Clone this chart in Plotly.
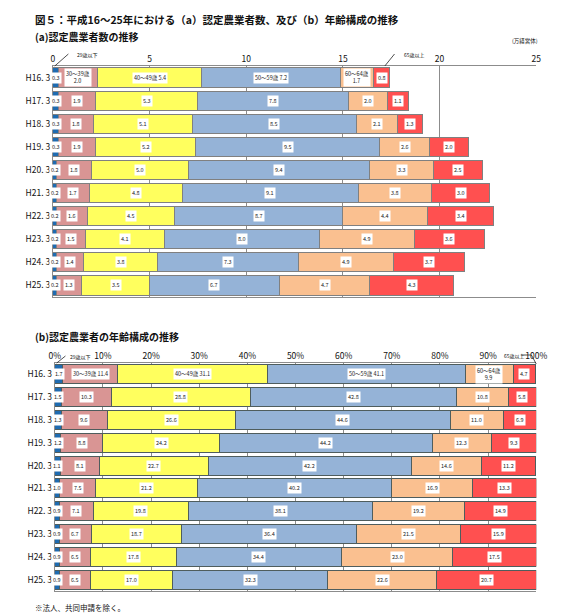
import plotly.graph_objects as go

# ---- data -------------------------------------------------------------
years = ["H16. 3", "H17. 3", "H18. 3", "H19. 3", "H20. 3",
         "H21. 3", "H22. 3", "H23. 3", "H24. 3", "H25. 3"]
ages = ["29歳以下", "30～39歳", "40～49歳", "50～59歳", "60～64歳", "65歳以上"]

# (a) number of certified farmers, 10,000 units
cnt_u29 = [0.3, 0.3, 0.3, 0.3, 0.2, 0.2, 0.2, 0.2, 0.2, 0.2]
cnt_30s = [2.0, 1.9, 1.8, 1.9, 1.8, 1.7, 1.6, 1.5, 1.4, 1.3]
cnt_40s = [5.4, 5.3, 5.1, 5.2, 5.0, 4.8, 4.5, 4.1, 3.8, 3.5]
cnt_50s = [7.2, 7.8, 8.5, 9.5, 9.4, 9.1, 8.7, 8.0, 7.3, 6.7]
cnt_60s = [1.7, 2.0, 2.1, 2.6, 3.3, 3.8, 4.4, 4.9, 4.9, 4.7]
cnt_65 = [0.8, 1.1, 1.3, 2.0, 2.5, 3.0, 3.4, 3.6, 3.7, 4.3]

# (b) age composition, %
pct_u29 = [1.7, 1.5, 1.3, 1.2, 1.1, 1.0, 0.9, 0.9, 0.9, 0.9]
pct_30s = [11.4, 10.3, 9.6, 8.8, 8.1, 7.5, 7.1, 6.7, 6.5, 6.5]
pct_40s = [31.1, 28.8, 26.6, 24.2, 22.7, 21.2, 19.8, 18.7, 17.8, 17.0]
pct_50s = [41.1, 42.8, 44.6, 44.2, 42.2, 40.2, 38.1, 36.4, 34.4, 32.3]
pct_60s = [9.9, 10.8, 11.0, 12.3, 14.6, 16.9, 19.2, 21.5, 23.0, 22.6]
pct_65 = [4.7, 5.8, 6.9, 9.3, 11.2, 13.3, 14.9, 15.9, 17.5, 20.7]

colors = ["#1F6BB0", "#D99594", "#FFFF5E", "#95B3D7", "#FAC090", "#FF5050"]
FONT = "Noto Sans CJK JP"

counts = [cnt_u29, cnt_30s, cnt_40s, cnt_50s, cnt_60s, cnt_65]
pcts = [pct_u29, pct_30s, pct_40s, pct_50s, pct_60s, pct_65]

fig = go.Figure()
annotations = []


def add_panel(series, xa, ya, line_col, first_labels):
    cum = [0.0] * len(years)
    for k, (name, vals) in enumerate(zip(ages, series)):
        fig.add_trace(go.Bar(
            y=years, x=vals, orientation="h", name=name,
            marker=dict(color=colors[k], line=dict(color=line_col, width=1)),
            xaxis=xa, yaxis=ya, showlegend=False, hoverinfo="x+name",
        ))
        for i, v in enumerate(vals):
            txt = f"{v:.1f}"
            if i == 0 and first_labels.get(k):
                txt = first_labels[k].format(v)
            annotations.append(dict(
                x=cum[i] + v / 2, y=years[i], xref=xa, yref=ya,
                text=txt, showarrow=False, bgcolor="white",
                font=dict(size=5.5, color="#222", family=FONT),
                borderpad=1,
            ))
            cum[i] += v


add_panel(counts, "x", "y", "#808080",
          {1: "30～39歳<br>{:.1f}", 2: "40～49歳 {:.1f}",
           3: "50～59歳 {:.1f}", 4: "60～64歳<br>{:.1f}"})
add_panel(pcts, "x2", "y2", "#4F5D5D",
          {1: "30～39歳 {:.1f}", 2: "40～49歳 {:.1f}",
           3: "50～59歳 {:.1f}", 4: "60～64歳<br>{:.1f}"})

# ---- texts ------------------------------------------------------------
def ptext(x, y, text, size, bold=False, xanchor="left"):
    annotations.append(dict(
        x=x / 581, y=1 - y / 614, xref="paper", yref="paper",
        text=f"<b>{text}</b>" if bold else text, showarrow=False,
        xanchor=xanchor, yanchor="middle",
        font=dict(size=size, color="#111", family=FONT),
    ))


ptext(20, 11, "図５：平成16～25年における（a）認定農業者数、及び（b）年齢構成の推移", 10.5, True)
ptext(20, 28, "(a)認定農業者数の推移", 10, True)
ptext(20, 328, "(b)認定農業者の年齢構成の推移", 10, True)
ptext(20, 599, "※法人、共同申請を除く。", 7.5)
ptext(542, 33, "(万経営体)", 5.5, xanchor="right")
ptext(63, 47, "29歳以下", 5)
ptext(400, 46, "65歳以上", 5)
ptext(56, 349, "29歳以下", 5)
ptext(503, 347, "65歳以上", 5)

shapes = []
for (x0, y0, x1, y1) in [(42, 58, 56, 46), (382, 58, 392, 46),
                         (44, 355, 53, 348), (522, 347, 533, 347),
                         (533, 347, 538, 356)]:
    shapes.append(dict(type="line", xref="paper", yref="paper",
                       x0=x0 / 581, y0=1 - y0 / 614, x1=x1 / 581, y1=1 - y1 / 614,
                       line=dict(color="#222", width=0.8)))

axis_font = dict(size=8.5, color="#111", family=FONT)

fig.update_layout(
    width=581, height=614, margin=dict(l=0, r=0, t=0, b=0),
    paper_bgcolor="white", plot_bgcolor="white",
    barmode="stack", bargap=0.17,
    font=dict(family=FONT),
    annotations=annotations, shapes=shapes,
    xaxis=dict(domain=[40 / 581, 538 / 581], anchor="y", side="top",
               range=[0, 25], tickvals=[0, 5, 10, 15, 20, 25],
               showgrid=True, gridcolor="#8C8C8C", gridwidth=1,
               showline=True, linecolor="#8C8C8C", mirror=True,
               ticks="", tickfont=axis_font, zeroline=False),
    yaxis=dict(domain=[1 - 289 / 614, 1 - 58 / 614], anchor="x",
               autorange="reversed", showline=True, linecolor="#8C8C8C",
               ticks="", tickfont=axis_font, showgrid=False),
    xaxis2=dict(domain=[42 / 581, 538 / 581], anchor="y2", side="top",
                range=[0, 100], dtick=10, ticksuffix="%",
                showgrid=True, gridcolor="#8C8C8C", gridwidth=1,
                showline=True, linecolor="#8C8C8C", mirror=True,
                ticks="", tickfont=axis_font, zeroline=False),
    yaxis2=dict(domain=[1 - 583 / 614, 1 - 355 / 614], anchor="x2",
                autorange="reversed", showline=True, linecolor="#8C8C8C",
                ticks="", tickfont=axis_font, showgrid=False),
)

fig.write_html("out.html")
